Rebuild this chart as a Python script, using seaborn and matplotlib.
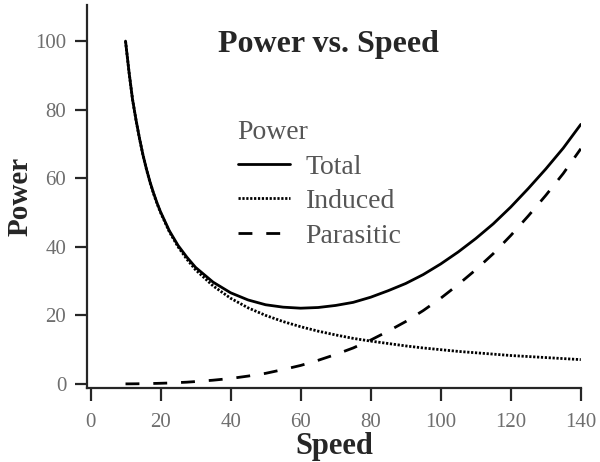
import matplotlib
matplotlib.use("Agg")
import matplotlib.pyplot as plt
import seaborn as sns
import pandas as pd

# values
speed = [10, 11, 12, 13, 14, 15, 16, 17, 18, 19, 20, 22.5, 25, 27.5, 30, 35,
         40, 45, 50, 55, 60, 65, 70, 75, 80, 85, 90, 95, 100, 105, 110, 115,
         120, 125, 130, 135, 140]
total = [100, 91.0, 83.0, 77.0, 71.6, 66.7, 62.6, 58.9, 55.7, 52.8, 50.2,
         44.7, 40.4, 37.0, 34.0, 29.7, 26.6, 24.5, 23.1, 22.4, 22.1, 22.3,
         22.9, 23.8, 25.3, 27.2, 29.3, 31.9, 35.0, 38.5, 42.4, 46.7, 51.6,
         57.0, 62.7, 68.8, 75.7]
induced = [100, 90.9, 83, 76.9, 71.5, 66.7, 62.5, 58.8, 55.5, 52.6, 50, 44.4,
           40, 36.4, 33.3, 28.6, 25, 22.2, 20, 18.2, 16.7, 15.4, 14.3, 13.3,
           12.5, 11.8, 11.1, 10.5, 10, 9.5, 9.1, 8.7, 8.3, 8.0, 7.7, 7.4, 7.1]
parasitic = [0.03, 0.03, 0.04, 0.05, 0.07, 0.08, 0.1, 0.12, 0.15, 0.17, 0.2,
             0.28, 0.4, 0.52, 0.7, 1.1, 1.6, 2.3, 3.1, 4.2, 5.4, 6.9, 8.6,
             10.5, 12.8, 15.4, 18.2, 21.4, 25, 29, 33.3, 38, 43.3, 49, 55,
             61.4, 68.6]
series = ["Total", "Induced", "Parasitic"]

df = pd.DataFrame({"Speed": speed, "Total": total, "Induced": induced,
                   "Parasitic": parasitic})
data = df.melt(id_vars="Speed", value_vars=series, var_name="Power",
               value_name="Value")

sns.set_style("ticks")
plt.rcParams["font.family"] = ["Liberation Serif", "DejaVu Serif"]

fig = plt.figure(figsize=(6, 4.62), dpi=100)
ax = fig.add_axes([0.145, 0.160, 0.823, 0.829])

sns.lineplot(data=data, x="Speed", y="Value", style="Power",
             style_order=series, color="black", linewidth=2,
             dashes={"Total": "", "Induced": (0.8, 0.6), "Parasitic": (5, 5)},
             ax=ax)

ax.set_xlim(-1, 140)
ax.set_ylim(-1.2, 110.5)
ax.set_xticks([0, 20, 40, 60, 80, 100, 120, 140])
ax.set_yticks([0, 20, 40, 60, 80, 100])
sns.despine(ax=ax)
for s in ["left", "bottom"]:
    ax.spines[s].set_linewidth(1.6)
ax.tick_params(length=9, width=1.6, labelsize=15, labelcolor="#6e6e6e")
ax.tick_params(axis="x", pad=9)
ax.tick_params(axis="y", pad=6)

ax.set_xlabel("Speed", fontsize=22, fontweight="bold", labelpad=0)
ax.set_ylabel("Power", fontsize=21, fontweight="bold", labelpad=1)

ax.text(0.488, 0.896, "Power vs. Speed", transform=ax.transAxes,
        ha="center", va="center", fontsize=23, fontweight="bold")

leg = ax.legend(title="Power", loc="upper left", bbox_to_anchor=(0.305, 0.70),
                frameon=False, fontsize=20, title_fontsize=20,
                handlelength=1.9, handletextpad=0.55, labelspacing=0.33,
                borderpad=0, borderaxespad=0)
leg._legend_box.align = "left"
leg.get_title().set_color("#555555")
for t in leg.get_texts():
    t.set_color("#555555")
for h in leg.get_lines():
    h.set_linewidth(2)

fig.savefig("out.png", dpi=100)
